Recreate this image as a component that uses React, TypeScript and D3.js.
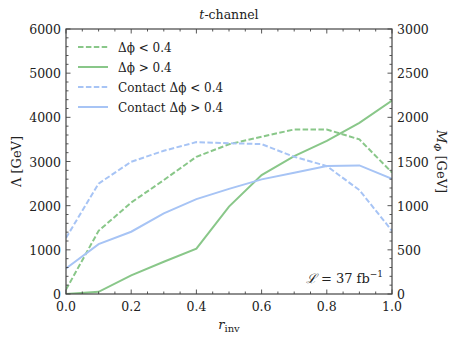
import React from "react";
import * as d3 from "d3";

const rinv = [0.0, 0.1, 0.2, 0.3, 0.4, 0.5, 0.6, 0.7, 0.8, 0.9, 1.0];
const dphiLow = [100, 1430, 2070, 2580, 3106, 3390, 3560, 3725, 3725, 3500, 2750];
const dphiHigh = [0, 50, 420, 731, 1025, 1980, 2692, 3122, 3468, 3876, 4380];
const contactLow = [1270, 2500, 2994, 3243, 3439, 3415, 3394, 3107, 2896, 2353, 1430];
const contactHigh = [580, 1130, 1410, 1825, 2149, 2380, 2595, 2744, 2896, 2911, 2609];

const xTicks = [0.0, 0.2, 0.4, 0.6, 0.8, 1.0];
const yTicks = [0, 1000, 2000, 3000, 4000, 5000, 6000];
const y2Ticks = [0, 500, 1000, 1500, 2000, 2500, 3000];

const GREEN = "#89c789";
const BLUE = "#a7c4f5";
const FONT = "DejaVu Serif";

const series = [
  { name: "dphiLow", values: dphiLow, color: GREEN, dashed: true },
  { name: "dphiHigh", values: dphiHigh, color: GREEN, dashed: false },
  { name: "contactLow", values: contactLow, color: BLUE, dashed: true },
  { name: "contactHigh", values: contactHigh, color: BLUE, dashed: false },
];

export default function App() {
  const W = 461, H = 343;
  const L = 66, R = 392, T = 29, B = 294;
  const x = d3.scaleLinear().domain([0, 1]).range([L, R]);
  const y = d3.scaleLinear().domain([0, 6000]).range([B, T]);
  const y2 = d3.scaleLinear().domain([0, 3000]).range([B, T]);
  const line = d3
    .line<number>()
    .x((_, i) => x(rinv[i]))
    .y((d) => y(d));

  const xMinor = d3.range(0, 1.0001, 0.05).map((v) => +v.toFixed(2));
  const yMinor = d3.range(0, 6001, 200);
  const y2Minor = d3.range(0, 3001, 100);
  const axisColor = "#444";
  const fs = 12.5;

  const legend = [
    { label: "Δϕ < 0.4", s: series[0] },
    { label: "Δϕ > 0.4", s: series[1] },
    { label: "Contact Δϕ < 0.4", s: series[2] },
    { label: "Contact Δϕ > 0.4", s: series[3] },
  ];

  return (
    <svg
      width={W}
      height={H}
      style={{ position: "absolute", left: 0, top: 0, background: "#fff", fontFamily: FONT }}
    >
      <defs>
        <clipPath id="plotclip">
          <rect x={L} y={T} width={R - L} height={B - T} />
        </clipPath>
      </defs>
      <g clipPath="url(#plotclip)">
        {series.map((s) => (
          <path
            key={s.name}
            d={line(s.values) || ""}
            fill="none"
            stroke={s.color}
            strokeWidth={2}
            strokeDasharray={s.dashed ? "5.5,2.4" : undefined}
          />
        ))}
      </g>
      <rect x={L} y={T} width={R - L} height={B - T} fill="none" stroke={axisColor} strokeWidth={1.2} />
      {xMinor.map((v) => {
        const major = Math.abs(v * 5 - Math.round(v * 5)) < 1e-6;
        const len = major ? 4.5 : 2.5;
        return (
          <g key={"x" + v}>
            <line x1={x(v)} x2={x(v)} y1={B} y2={B - len} stroke={axisColor} strokeWidth={0.9} />
            <line x1={x(v)} x2={x(v)} y1={T} y2={T + len} stroke={axisColor} strokeWidth={0.9} />
          </g>
        );
      })}
      {xTicks.map((v) => (
        <text key={"xl" + v} x={x(v)} y={B + 17} textAnchor="middle" fontSize={fs} fill="#222">
          {v.toFixed(1)}
        </text>
      ))}
      {yMinor.map((v) => {
        const major = v % 1000 === 0;
        const len = major ? 4.5 : 2.5;
        return <line key={"y" + v} x1={L} x2={L + len} y1={y(v)} y2={y(v)} stroke={axisColor} strokeWidth={0.9} />;
      })}
      {yTicks.map((v) => (
        <text key={"yl" + v} x={L - 5} y={y(v) + 5} textAnchor="end" fontSize={fs} fill="#222">
          {v}
        </text>
      ))}
      {y2Minor.map((v) => {
        const major = v % 500 === 0;
        const len = major ? 4.5 : 2.5;
        return <line key={"y2" + v} x1={R} x2={R - len} y1={y2(v)} y2={y2(v)} stroke={axisColor} strokeWidth={0.9} />;
      })}
      {y2Ticks.map((v) => (
        <text key={"y2l" + v} x={R + 5} y={y2(v) + 5} textAnchor="start" fontSize={fs} fill="#222">
          {v}
        </text>
      ))}
      <text x={(L + R) / 2} y={19} textAnchor="middle" fontSize={fs} fill="#222">
        <tspan fontStyle="italic">t</tspan>-channel
      </text>
      <text x={(L + R) / 2} y={329} textAnchor="middle" fontSize={13} fill="#222">
        <tspan fontStyle="italic">r</tspan>
        <tspan fontSize={10} dy={3}>inv</tspan>
      </text>
      <text
        transform={`translate(21,${(T + B) / 2}) rotate(-90)`}
        textAnchor="middle"
        fontSize={13}
        fill="#222"
      >
        Λ [GeV]
      </text>
      <text
        transform={`translate(437,${(T + B) / 2}) rotate(90)`}
        textAnchor="middle"
        fontSize={13}
        fill="#222"
      >
        <tspan fontStyle="italic">M</tspan>
        <tspan fontSize={10} dy={3} fontStyle="italic">Φ</tspan>
        <tspan dy={-3}> [GeV]</tspan>
      </text>
      {legend.map((item, i) => {
        const ly = 47 + i * 20;
        return (
          <g key={item.label}>
            <line
              x1={78}
              x2={108}
              y1={ly}
              y2={ly}
              stroke={item.s.color}
              strokeWidth={2}
              strokeDasharray={item.s.dashed ? "5.5,2.4" : undefined}
            />
            <text x={118} y={ly + 4.5} fontSize={12} fill="#222">
              {item.label}
            </text>
          </g>
        );
      })}
      <text x={383} y={283} textAnchor="end" fontSize={13} fill="#222">
        <tspan fontStyle="italic">ℒ</tspan> = 37 fb
        <tspan fontSize={9} dy={-6}>−1</tspan>
      </text>
    </svg>
  );
}
